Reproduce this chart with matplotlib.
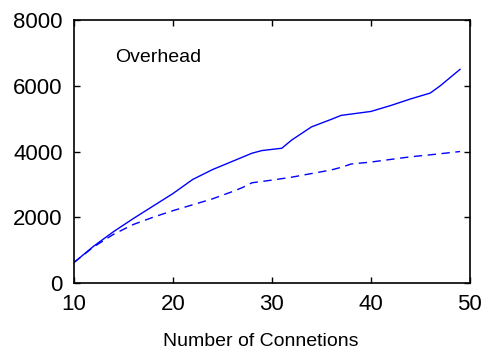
import matplotlib
matplotlib.use("Agg")
from matplotlib import pyplot as plt

plt.rcParams["font.family"] = ["Liberation Sans", "DejaVu Sans"]

# overhead curves
x_solid = [10, 12, 14, 16, 18, 20, 22, 24, 26, 28, 29, 31, 32, 34, 36, 37, 39, 40, 42, 44, 46, 47, 49]
y_solid = [620, 1120, 1560, 1960, 2340, 2720, 3150, 3450, 3700, 3950, 4030, 4100, 4350, 4750, 4980, 5100, 5180, 5220, 5400, 5600, 5780, 6000, 6500]

x_dash = [10, 12, 14, 16, 18, 20, 22, 24, 26, 27, 28, 30, 32, 34, 36, 37, 38, 40, 42, 44, 46, 49]
y_dash = [620, 1100, 1480, 1780, 2000, 2200, 2380, 2560, 2780, 2900, 3050, 3130, 3220, 3330, 3440, 3520, 3620, 3680, 3760, 3840, 3900, 4000]

x_ticks = [10, 20, 30, 40, 50]
y_ticks = [0, 2000, 4000, 6000, 8000]

fig = plt.figure(figsize=(4.89, 3.52), dpi=100)
ax = fig.add_axes([0.151, 0.196, 0.81, 0.747])

ax.plot(x_solid, y_solid, color="#0000ff", linewidth=1.0)
ax.plot(x_dash, y_dash, color="#0000ff", linewidth=1.0, dashes=(6, 4))

ax.set_xlim(10, 50)
ax.set_ylim(0, 8000)
ax.set_xticks(x_ticks)
ax.set_yticks(y_ticks)
ax.tick_params(direction="in", top=True, right=True, length=4, width=1,
               labelsize=16, pad=8)
for s in ax.spines.values():
    s.set_linewidth(1.2)

ax.text(14.2, 6850, "Overhead", fontsize=14, va="center", ha="left")
# label sits a little left of the axes centre in the original
fig.text(0.534, 0.031, "Number of Connetions", fontsize=14, ha="center", va="center")

fig.savefig("out.png", dpi=100)
